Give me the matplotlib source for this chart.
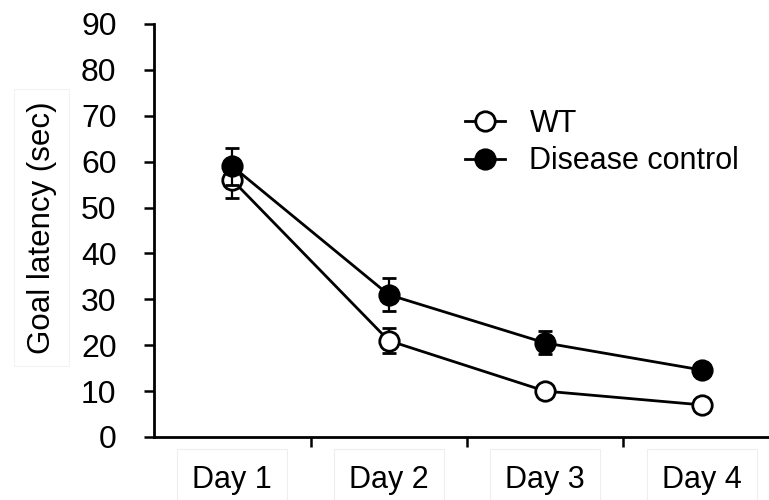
import numpy as np
import matplotlib
matplotlib.use("Agg")
from matplotlib import pyplot as plt
from matplotlib.lines import Line2D

days = ["Day 1", "Day 2", "Day 3", "Day 4"]
wt = [56, 21, 10, 7]
wt_err = [4, 2.7, 0.8, 0.6]
dc = [59, 31, 20.5, 14.6]
dc_err = [4, 3.6, 2.5, 0.8]
yticks = [0, 10, 20, 30, 40, 50, 60, 70, 80, 90]

plt.rcParams["font.family"] = ["Liberation Sans", "DejaVu Sans"]

fig = plt.figure(figsize=(7.69, 5.0), dpi=100)
ax = fig.add_axes([0.2003, 0.126, 0.7997, 0.826])

x = np.arange(len(days))
ax.errorbar(x, wt, yerr=wt_err, color="black", lw=2, marker="o", ms=14,
            mfc="white", mec="black", mew=2, capsize=5, elinewidth=1.6,
            capthick=1.6, zorder=3)
ax.errorbar(x, dc, yerr=dc_err, color="black", lw=2, marker="o", ms=14,
            mfc="black", mec="black", mew=2, capsize=5, elinewidth=1.6,
            capthick=1.6, zorder=4)

ax.set_xlim(-0.5, 3.43)
ax.set_ylim(0, 90)
ax.set_yticks(yticks)
ax.set_xticks([0.5, 1.5, 2.5])
ax.set_xticklabels([])
for sp in ["top", "right"]:
    ax.spines[sp].set_visible(False)
ax.spines["left"].set_linewidth(2)
ax.spines["bottom"].set_linewidth(2)
ax.tick_params(axis="y", direction="out", length=7, width=1.8, labelsize=23, pad=20)
ax.tick_params(axis="x", direction="out", length=7, width=1.8)

# category labels in faint boxes
for i, d in enumerate(days):
    ax.text(i, -9.3, d, ha="center", va="center", fontsize=22,
            transform=ax.transData, clip_on=False,
            bbox=dict(boxstyle="square,pad=0.5", fc="white", ec="#eeeeee", lw=0.8))

fig.text(0.054, 0.545, "Goal latency (sec)", rotation=90, ha="center", va="center",
         fontsize=22.5,
         bbox=dict(boxstyle="square,pad=0.4", fc="white", ec="#f2f2f2", lw=0.8))

handles = [
    Line2D([], [], color="black", lw=2, marker="o", ms=14, mfc="white", mew=2),
    Line2D([], [], color="black", lw=2, marker="o", ms=14, mfc="black", mew=2),
]
ax.legend(handles, ["WT", "Disease control"], loc="upper left",
          bbox_to_anchor=(0.506, 0.795), frameon=False, fontsize=22,
          handlelength=1.3, handletextpad=0.8, labelspacing=0.25,
          borderaxespad=0, borderpad=0)

fig.savefig("out.png", dpi=100)
